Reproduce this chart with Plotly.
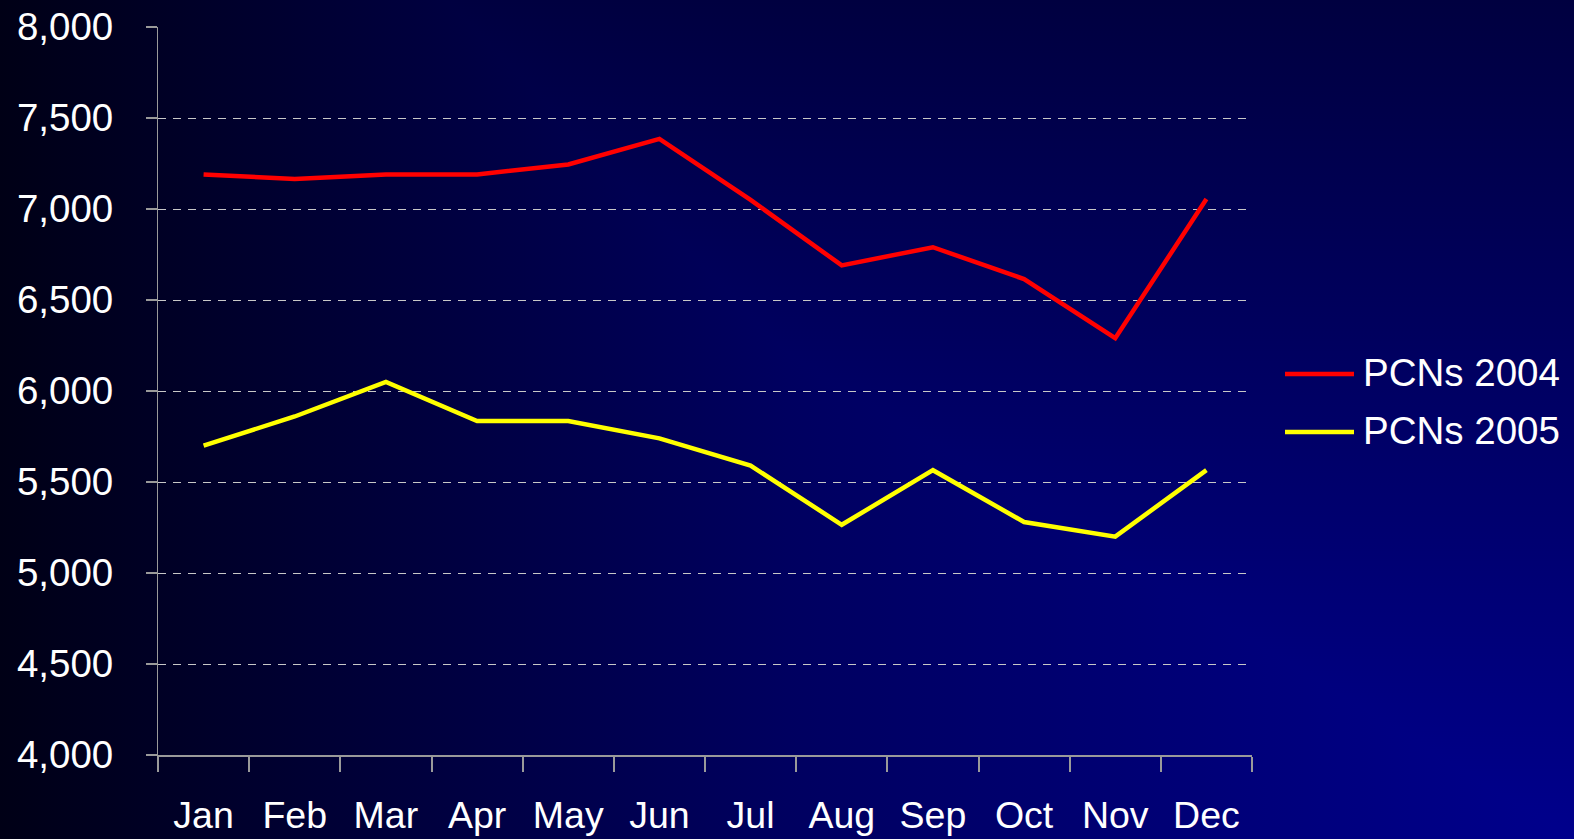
import base64
import plotly.graph_objects as go

months = ["Jan", "Feb", "Mar", "Apr", "May", "Jun", "Jul", "Aug", "Sep", "Oct", "Nov", "Dec"]
pcns_2004 = [7190, 7165, 7190, 7190, 7245, 7385, 7050, 6690, 6790, 6615, 6290, 7055]
pcns_2005 = [5700, 5860, 6050, 5835, 5835, 5740, 5590, 5265, 5565, 5280, 5200, 5565]
series_names = ["PCNs 2004", "PCNs 2005"]
series_colors = ["#ff0000", "#ffff00"]

W, H = 1574, 839
L, R, T, B = 158, 322, 27, 84
PW, PH = W - L - R, H - T - B

FONT = "Liberation Sans, Arial, Helvetica, sans-serif"

svg = f'''<svg xmlns="http://www.w3.org/2000/svg" width="{W}" height="{H}" viewBox="0 0 {W} {H}" preserveAspectRatio="none">
<defs>
<linearGradient id="h" x1="0" y1="0" x2="1" y2="0">
<stop offset="0" stop-color="#000016"/><stop offset="0.5" stop-color="#000060"/><stop offset="1" stop-color="#00008c"/></linearGradient>
<linearGradient id="v" x1="0" y1="0" x2="0" y2="1">
<stop offset="0" stop-color="#000040"/><stop offset="1" stop-color="#00008c"/></linearGradient>
</defs>
<rect x="0" y="0" width="{W}" height="{H}" fill="url(#h)"/>
<rect x="0" y="0" width="{W}" height="{H}" fill="url(#v)" style="mix-blend-mode:darken"/>
</svg>'''
svg_uri = "data:image/svg+xml;base64," + base64.b64encode(svg.encode()).decode()

fig = go.Figure()
for name, vals, col in zip(series_names, [pcns_2004, pcns_2005], series_colors):
    fig.add_trace(go.Scatter(x=months, y=vals, mode="lines", name=name,
                             line=dict(color=col, width=4.5), showlegend=False))

def px_x(px):
    return (px - L) / PW

def px_y(py):
    return (H - B - py) / PH

shapes = []
annotations = []
legend_rows = [374, 432]
for name, col, ly in zip(series_names, series_colors, legend_rows):
    shapes.append(dict(type="line", xref="paper", yref="paper",
                       x0=px_x(1285), x1=px_x(1354), y0=px_y(ly), y1=px_y(ly),
                       line=dict(color=col, width=4.5)))
    annotations.append(dict(xref="paper", yref="paper", x=px_x(1361), y=px_y(ly - 2),
                            text=name, showarrow=False, xanchor="left", yanchor="middle",
                            font=dict(family=FONT, size=38.5, color="white")))

fig.update_layout(
    width=W, height=H,
    margin=dict(l=L, r=R, t=T, b=B, pad=0, autoexpand=False),
    paper_bgcolor="#000040",
    plot_bgcolor="rgba(0,0,0,0)",
    font=dict(family=FONT, size=38, color="white"),
    images=[dict(source=svg_uri, xref="paper", yref="paper",
                 x=-L / PW, y=1 + T / PH, sizex=W / PW, sizey=H / PH,
                 xanchor="left", yanchor="top", sizing="stretch", layer="below")],
    shapes=shapes,
    annotations=annotations,
    showlegend=False,
)
fig.update_xaxes(type="category", tickson="boundaries", ticks="outside", ticklen=15,
                 range=[-0.5, len(months) - 0.5], automargin=False,
                 tickcolor="#9a9a9a", tickwidth=2, showline=True, linecolor="#9a9a9a",
                 linewidth=2, showgrid=False, ticklabelstandoff=26,
                 tickfont=dict(family=FONT, size=37.5, color="white"))
fig.update_yaxes(range=[4000, 8000], dtick=500, tickformat=",", ticks="outside",
                 ticklen=11, tickcolor="#9a9a9a", tickwidth=2, showline=True, automargin=False,
                 linecolor="#9a9a9a", linewidth=1, showgrid=True, gridcolor="#c8c8c8",
                 gridwidth=1, griddash="8px,7px", zeroline=False, ticklabelstandoff=25,
                 tickfont=dict(family=FONT, size=38.5, color="white"))

fig.write_html("out.html", config={"displayModeBar": False},
               post_script="document.body.style.margin='0';document.body.style.overflow='hidden';")
